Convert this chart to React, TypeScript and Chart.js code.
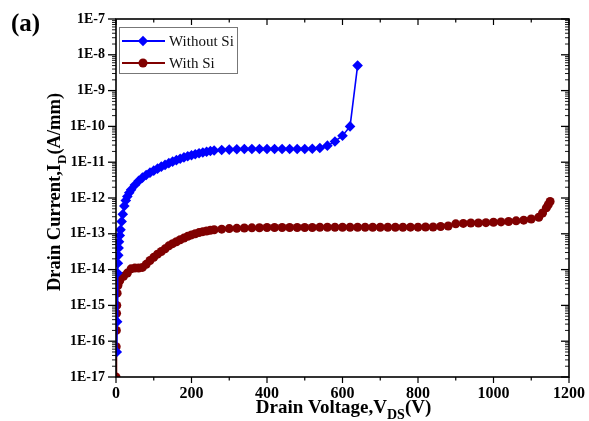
import React, { useEffect, useRef } from 'react';
import { Chart, registerables } from 'chart.js';

Chart.register(...registerables);

// ---- data ----
const withoutSiV = [
  2, 3, 4, 5, 6, 7, 8, 10, 12, 15, 18, 22, 26, 30, 35, 40, 50, 60, 70, 80, 90, 100,
  110, 120, 130, 140, 150, 160, 170, 180, 190, 200, 210, 220, 230, 240, 250, 260, 280,
  300, 320, 340, 360, 380, 400, 420, 440, 460, 480, 500, 520, 540, 560, 580, 600, 620, 640,
];
const withoutSiI = [
  5e-17, 3.5e-16, 8e-15, 1.5e-14, 2.5e-14, 4e-14, 6e-14, 9e-14, 1.3e-13, 2.2e-13, 3.5e-13,
  6e-13, 8.5e-13, 1.1e-12, 1.4e-12, 1.7e-12, 2.3e-12, 3e-12, 3.7e-12, 4.4e-12, 5.1e-12,
  5.8e-12, 6.6e-12, 7.5e-12, 8.4e-12, 9.4e-12, 1.04e-11, 1.14e-11, 1.25e-11, 1.36e-11,
  1.47e-11, 1.57e-11, 1.67e-11, 1.77e-11, 1.87e-11, 1.96e-11, 2.05e-11, 2.12e-11, 2.2e-11,
  2.25e-11, 2.3e-11, 2.33e-11, 2.33e-11, 2.33e-11, 2.33e-11, 2.33e-11, 2.33e-11, 2.33e-11,
  2.33e-11, 2.33e-11, 2.38e-11, 2.5e-11, 2.9e-11, 3.8e-11, 5.5e-11, 1.0e-10, 5e-9,
];

const withSiV = [
  0, 0.5, 1, 1.5, 2, 3, 5, 8, 10, 20, 30, 40, 50, 60, 70, 80, 90, 100, 110, 120, 130, 140,
  150, 160, 170, 180, 190, 200, 210, 220, 230, 240, 250, 260, 280, 300, 320, 340, 360, 380,
  400, 420, 440, 460, 480, 500, 520, 540, 560, 580, 600, 620, 640, 660, 680, 700, 720, 740,
  760, 780, 800, 820, 840, 860, 880, 900, 920, 940, 960, 980, 1000, 1020, 1040, 1060, 1080,
  1100, 1120, 1130, 1140, 1145, 1150,
];
const withSiI = [
  1e-17, 7e-17, 2e-16, 6e-16, 1e-15, 2.2e-15, 3.6e-15, 4.6e-15, 5e-15, 6.5e-15, 8e-15,
  1.05e-14, 1.1e-14, 1.1e-14, 1.15e-14, 1.4e-14, 1.8e-14, 2.2e-14, 2.7e-14, 3.2e-14,
  3.8e-14, 4.6e-14, 5.3e-14, 6e-14, 6.8e-14, 7.6e-14, 8.5e-14, 9.3e-14, 1.0e-13, 1.08e-13,
  1.15e-13, 1.2e-13, 1.25e-13, 1.3e-13, 1.35e-13, 1.4e-13, 1.42e-13, 1.45e-13, 1.47e-13,
  1.48e-13, 1.5e-13, 1.5e-13, 1.5e-13, 1.5e-13, 1.5e-13, 1.5e-13, 1.5e-13, 1.52e-13,
  1.52e-13, 1.52e-13, 1.52e-13, 1.52e-13, 1.52e-13, 1.52e-13, 1.52e-13, 1.52e-13, 1.52e-13,
  1.52e-13, 1.52e-13, 1.53e-13, 1.53e-13, 1.55e-13, 1.55e-13, 1.6e-13, 1.65e-13, 1.9e-13,
  1.95e-13, 2.0e-13, 2.0e-13, 2.05e-13, 2.1e-13, 2.15e-13, 2.2e-13, 2.3e-13, 2.4e-13,
  2.6e-13, 2.9e-13, 3.8e-13, 5.3e-13, 6.5e-13, 8e-13,
];

const xTickValues = [0, 200, 400, 600, 800, 1000, 1200];
const xMinorStep = 100;
const yTickExponents = [-17, -16, -15, -14, -13, -12, -11, -10, -9, -8, -7];

const seriesNames = ['Without Si', 'With Si'];
const seriesColors = ['#0000FF', '#800000'];

const SERIF = '"Liberation Serif", "Times New Roman", Times, serif';

function line(ctx: CanvasRenderingContext2D, x1: number, y1: number, x2: number, y2: number) {
  ctx.beginPath();
  ctx.moveTo(x1, y1);
  ctx.lineTo(x2, y2);
  ctx.stroke();
}

const framePlugin = {
  id: 'frameTicks',
  afterDraw(chart: any) {
    const { ctx, chartArea: a, scales } = chart;
    const xs = scales.x;
    const ys = scales.y;
    ctx.save();
    ctx.strokeStyle = '#000';
    ctx.lineWidth = 1.6;
    ctx.strokeRect(a.left, a.top, a.right - a.left, a.bottom - a.top);
    ctx.lineWidth = 1.2;
    const xmax = xTickValues[xTickValues.length - 1];
    for (let v = xTickValues[0]; v <= xmax; v += xMinorStep) {
      const px = xs.getPixelForValue(v);
      const major = xTickValues.includes(v);
      const len = major ? 6 : 3.5;
      line(ctx, px, a.bottom, px, a.bottom + len);
      line(ctx, px, a.top, px, a.top + len);
    }
    for (let i = 0; i < yTickExponents.length; i++) {
      const e = yTickExponents[i];
      const last = i === yTickExponents.length - 1;
      for (let m = 1; m <= (last ? 1 : 9); m++) {
        const val = m * Math.pow(10, e);
        const py = ys.getPixelForValue(val);
        const major = m === 1;
        const len = major ? 8 : 4;
        ctx.lineWidth = major ? 1.3 : 0.9;
        line(ctx, a.left - len, py, a.left, py);
        line(ctx, a.right - len, py, a.right, py);
      }
    }
    ctx.restore();
  },
};

const legendPlugin = {
  id: 'boxLegend',
  afterDraw(chart: any) {
    const { ctx, chartArea: a } = chart;
    ctx.save();
    const bx = a.left + 3;
    const by = a.top + 8;
    const bw = 118;
    const bh = 46;
    ctx.fillStyle = '#fff';
    ctx.fillRect(bx, by, bw, bh);
    ctx.strokeStyle = '#777';
    ctx.lineWidth = 1;
    ctx.strokeRect(bx + 0.5, by + 0.5, bw, bh);
    chart.data.datasets.forEach((ds: any, i: number) => {
      const cy = by + 14 + i * 22;
      ctx.strokeStyle = ds.borderColor;
      ctx.lineWidth = 1.8;
      line(ctx, bx + 3, cy, bx + 46, cy);
      ctx.fillStyle = ds.backgroundColor;
      const mx = bx + 24;
      ctx.beginPath();
      if (ds.pointStyle === 'rectRot') {
        const r = 5.2;
        ctx.moveTo(mx, cy - r);
        ctx.lineTo(mx + r, cy);
        ctx.lineTo(mx, cy + r);
        ctx.lineTo(mx - r, cy);
        ctx.closePath();
      } else {
        ctx.arc(mx, cy, 4.5, 0, Math.PI * 2);
      }
      ctx.fill();
      ctx.fillStyle = '#111';
      ctx.font = `15px ${SERIF}`;
      ctx.textBaseline = 'middle';
      ctx.textAlign = 'left';
      ctx.fillText(ds.label, bx + 50, cy + 1);
    });
    ctx.restore();
  },
};

function drawSubText(
  ctx: CanvasRenderingContext2D,
  parts: { t: string; sub?: boolean }[],
  x: number,
  y: number,
  size: number,
  subSize: number,
) {
  let total = 0;
  for (const p of parts) {
    ctx.font = `bold ${p.sub ? subSize : size}px ${SERIF}`;
    total += ctx.measureText(p.t).width;
  }
  let cx = x - total / 2;
  for (const p of parts) {
    ctx.font = `bold ${p.sub ? subSize : size}px ${SERIF}`;
    ctx.fillText(p.t, cx, p.sub ? y + size * 0.3 : y);
    cx += ctx.measureText(p.t).width;
  }
}

const titlePlugin = {
  id: 'axisTitles',
  afterDraw(chart: any) {
    const { ctx, chartArea: a } = chart;
    ctx.save();
    ctx.fillStyle = '#000';
    ctx.textBaseline = 'alphabetic';
    ctx.textAlign = 'left';
    drawSubText(
      ctx,
      [{ t: 'Drain Voltage,V' }, { t: 'DS', sub: true }, { t: '(V)' }],
      (a.left + a.right) / 2 + 1,
      413,
      19,
      14,
    );
    ctx.save();
    ctx.translate(60, (a.top + a.bottom) / 2 - 6);
    ctx.rotate(-Math.PI / 2);
    drawSubText(
      ctx,
      [{ t: 'Drain Current,I' }, { t: 'D', sub: true }, { t: '(A/mm)' }],
      0,
      0,
      18.5,
      13,
    );
    ctx.restore();
    ctx.font = `bold 25px ${SERIF}`;
    ctx.fillText('(a)', 11, 31);
    ctx.restore();
  },
};

export default function App() {
  const canvasRef = useRef<HTMLCanvasElement | null>(null);

  useEffect(() => {
    const canvas = canvasRef.current;
    if (!canvas) return;
    const chart = new Chart(canvas, {
      type: 'line',
      data: {
        datasets: [
          {
            label: seriesNames[0],
            data: withoutSiV.map((v, i) => ({ x: v, y: withoutSiI[i] })),
            borderColor: seriesColors[0],
            backgroundColor: seriesColors[0],
            pointBackgroundColor: seriesColors[0],
            pointBorderColor: seriesColors[0],
            pointStyle: 'rectRot',
            pointRadius: 5.3,
            pointBorderWidth: 0,
            borderWidth: 1.6,
            tension: 0,
          },
          {
            label: seriesNames[1],
            data: withSiV.map((v, i) => ({ x: v, y: withSiI[i] })),
            borderColor: seriesColors[1],
            backgroundColor: seriesColors[1],
            pointBackgroundColor: seriesColors[1],
            pointBorderColor: seriesColors[1],
            pointStyle: 'circle',
            pointRadius: 4.5,
            pointBorderWidth: 0,
            borderWidth: 1.6,
            tension: 0,
          },
        ],
      },
      options: {
        animation: false,
        responsive: false,
        maintainAspectRatio: false,
        layout: { padding: { top: 19, right: 20, left: 0, bottom: 0 } },
        plugins: {
          legend: { display: false },
          tooltip: { enabled: false },
        },
        scales: {
          x: {
            type: 'linear',
            min: 0,
            max: 1200,
            border: { display: false },
            grid: { display: false, drawTicks: false },
            afterBuildTicks: (scale: any) => {
              scale.ticks = xTickValues.map((v) => ({ value: v }));
            },
            afterFit: (scale: any) => {
              scale.height = 44;
              scale.paddingLeft = 0;
              scale.paddingRight = 0;
            },
            ticks: {
              autoSkip: false,
              maxRotation: 0,
              padding: 7,
              color: '#000',
              font: { family: SERIF, weight: 'bold', size: 16 },
              callback: (v: any) => String(v),
            },
          },
          y: {
            type: 'logarithmic',
            min: 1e-17,
            max: 1e-7,
            border: { display: false },
            grid: { display: false, drawTicks: false },
            afterBuildTicks: (scale: any) => {
              scale.ticks = yTickExponents.map((e) => ({ value: Math.pow(10, e) }));
            },
            afterFit: (scale: any) => {
              scale.width = 116;
              scale.paddingTop = 0;
              scale.paddingBottom = 0;
            },
            ticks: {
              autoSkip: false,
              padding: 11,
              color: '#000',
              font: { family: SERIF, weight: 'bold', size: 14 },
              callback: (v: any) => '1E' + Math.round(Math.log10(Number(v))),
            },
          },
        },
      },
      plugins: [framePlugin, legendPlugin, titlePlugin],
    } as any);
    return () => chart.destroy();
  }, []);

  return (
    <div style={{ position: 'absolute', left: 0, top: 0, width: 589, height: 421, background: '#fff' }}>
      <canvas ref={canvasRef} width={589} height={421} style={{ display: 'block' }} />
    </div>
  );
}
